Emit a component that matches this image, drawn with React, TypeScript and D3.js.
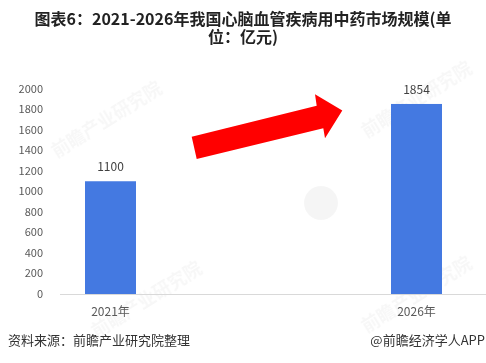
import * as d3 from "d3";

const years = ["2021年", "2026年"];
const values = [1100, 1854];
const yTicks = [0, 200, 400, 600, 800, 1000, 1200, 1400, 1600, 1800, 2000];
const titleLines = ["图表6：2021-2026年我国心脑血管疾病用中药市场规模(单", "位：亿元)"];
const source = "资料来源：前瞻产业研究院整理";
const credit = "@前瞻经济学人APP";

const W = 486;
const H = 363;
const FONT = "'Noto Sans CJK SC', 'Noto Sans', sans-serif";

export default function App() {
  const x = d3.scalePoint<string>().domain(years).range([110.5, 416.5]);
  const y = d3.scaleLinear().domain([0, 2000]).range([294, 89]);
  const barW = 51;

  // decorative trend arrow between the two bars
  const arrow: [number, number][] = [
    [191.7, 136.7],
    [316.7, 105.7],
    [315, 94.3],
    [342.3, 110.5],
    [325, 138.3],
    [323.3, 128.3],
    [196.7, 159],
  ];

  const marks = [
    { x: 110, y: 125 },
    { x: 150, y: 305 },
    { x: 420, y: 105 },
    { x: 420, y: 300 },
  ];

  return (
    <svg
      width={W}
      height={H}
      style={{ position: "absolute", left: 0, top: 0, background: "#fff" }}
      fontFamily={FONT}
    >
      {/* faint watermarks */}
      <g fill="#000" opacity={0.035} fontWeight="bold">
        {marks.map((m, i) => (
          <text
            key={i}
            transform={`translate(${m.x},${m.y}) rotate(-32)`}
            textAnchor="middle"
            fontSize={18}
          >
            前瞻产业研究院
          </text>
        ))}
      </g>
      <circle cx={321} cy={203} r={17} fill="#000" opacity={0.04} />

      {titleLines.map((t, i) => (
        <text
          key={i}
          x={243}
          y={25 + i * 18}
          textAnchor="middle"
          fontSize={16}
          fontWeight="bold"
          fill="#222"
        >
          {t}
        </text>
      ))}

      {yTicks.map((t) => (
        <text
          key={t}
          x={43}
          y={y(t)}
          dy="0.35em"
          textAnchor="end"
          fontSize={11}
          fill="#595959"
        >
          {t}
        </text>
      ))}

      <line x1={60} x2={486} y1={y(0) + 0.5} y2={y(0) + 0.5} stroke="#d9d9d9" />

      {years.map((yr, i) => (
        <g key={yr}>
          <rect
            x={x(yr)! - barW / 2}
            y={y(values[i])}
            width={barW}
            height={y(0) - y(values[i])}
            fill="#4479e1"
          />
          <text
            x={x(yr)!}
            y={y(values[i]) - 10}
            textAnchor="middle"
            fontSize={12}
            fill="#404040"
          >
            {values[i]}
          </text>
          <text x={x(yr)!} y={316} textAnchor="middle" fontSize={12} fill="#595959">
            {yr}
          </text>
        </g>
      ))}

      <polygon points={arrow.map((p) => p.join(",")).join(" ")} fill="#ff0000" />

      <text x={8} y={345} fontSize={13} fill="#333">
        {source}
      </text>
      <text x={485} y={345} textAnchor="end" fontSize={13} fill="#333">
        {credit}
      </text>
    </svg>
  );
}
